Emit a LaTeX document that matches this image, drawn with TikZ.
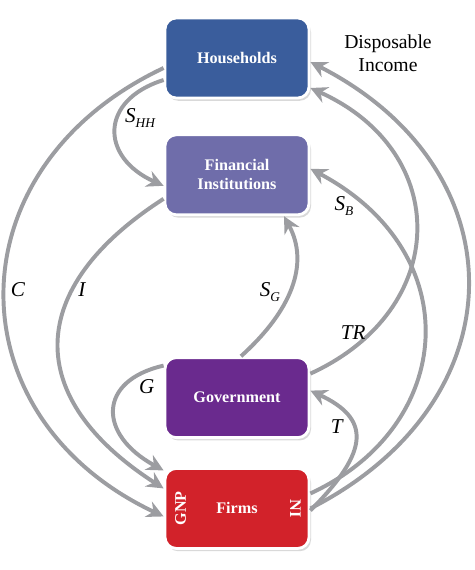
\documentclass[tikz,border=0pt]{standalone}
\usepackage{fontspec}
\setmainfont{Liberation Serif}
\usetikzlibrary{positioning,arrows.meta,shadows}

\definecolor{hhblue}{HTML}{3A5D9C}
\definecolor{finviolet}{HTML}{6F6DAA}
\definecolor{govpurple}{HTML}{6A2A8E}
\definecolor{firmred}{HTML}{D2222A}
\definecolor{flowgray}{HTML}{9C9DA1}

\newcommand{\lowsub}[1]{\raisebox{-0.55ex}{\fontsize{9.5}{10}\selectfont#1}}

\begin{document}
\begin{tikzpicture}[sector/.style={draw=white, line width=2pt, rounded corners=8pt, minimum width=3.6cm, minimum height=2cm, text=white, align=center, font=\bfseries\fontsize{11.5}{13.5}\selectfont, drop shadow={opacity=0.3, shadow xshift=0.5mm, shadow yshift=-0.7mm}},
		sidetag/.style={text=white, font=\bfseries\fontsize{11.5}{13.5}\selectfont},
		flow/.style={draw=flowgray, line width=2.8pt, -{Stealth[length=4.2mm, width=4.2mm, inset=1.4mm]}},
		lbl/.style={font=\itshape\fontsize{15}{17}\selectfont}]
		\useasboundingbox (0,0) rectangle (11.85,14.25);
		\begin{scope}
			\node (hh) [sector, fill=hhblue] at (5.925,12.8) {Households};
			\node (fin) [sector, fill=finviolet, below=0.85cm of hh] {Financial\\Institutions};
			\node (gov) [sector, fill=govpurple, below=3.5cm of fin] {Government};
			\node (firms) [sector, fill=firmred, below=0.7cm of gov] {Firms};
			\node (gnp) [sidetag, rotate=90] at ([xshift=0.425cm]firms.west) {GNP};
			\node (ni) [sidetag, rotate=-90] at ([xshift=-0.375cm]firms.east) {NI};
			
			% left side flows
			\draw [flow] ([yshift=-0.25cm]hh.west) .. controls +(-5.3,-2.5) and +(-5.3,2.5) .. ([yshift=-0.2cm]firms.west);
			\draw [flow] ([yshift=-0.55cm]hh.west) .. controls +(-1.6,-0.5) and +(-1.6,0.72) .. ([yshift=-0.275cm]fin.west);
			\draw [flow] ([yshift=-0.6cm]fin.west) .. controls +(-3.5,-2.25) and +(-3.5,2.25) .. ([yshift=0.5cm]firms.west);
			\draw [flow] ([yshift=0.8cm]gov.west) .. controls +(-1.65,-0.375) and +(-1.65,0.9) .. ([yshift=0.95cm]firms.west);
			
			% right side flows
			\draw [flow] ([xshift=0.1cm]gov.north) .. controls +(1.25,1.125) and +(0.65,-1.2) .. ([xshift=1.175cm]fin.south);
			\draw [flow] ([yshift=0.6cm]gov.east) .. controls +(3.5,1.6) and +(3.55,-1.6) .. ([yshift=-0.75cm]hh.east);
			\draw [flow] ([yshift=0.375cm]firms.east) .. controls +(3.64,1.68) and +(3.96,-2.1) .. ([yshift=0.15cm]fin.east);
			\draw [flow] (firms.east) .. controls +(5.25,2.68) and +(5.25,-2.68) .. ([yshift=-0.1cm]hh.east);
			\draw [flow] ([yshift=-0.05cm]firms.east) .. controls +(1.5,1.5) and +(1.5,-0.7) .. ([yshift=0.175cm]gov.east);
			
			\node (lc) [lbl] at (0.45,7.0) {C};
			\node (li) [lbl] at (2.05,7.0) {I};
			\node (lshh) [lbl] at (3.5,11.3) {S\lowsub{HH}};
			\node (lsg) [lbl] at (6.75,6.95) {S\lowsub{G}};
			\node (lsb) [lbl] at (8.6,9.1) {S\lowsub{B}};
			\node (ltr) [lbl] at (8.83,5.925) {TR};
			\node (lg) [lbl] at (3.67,4.575) {G};
			\node (lt) [lbl] at (8.42,3.575) {T};
			\node (ldi) [font=\fontsize{14}{16.5}\selectfont, align=center] at (9.7,12.91) {Disposable\\Income};
		\end{scope}
	\end{tikzpicture}
\end{document}
